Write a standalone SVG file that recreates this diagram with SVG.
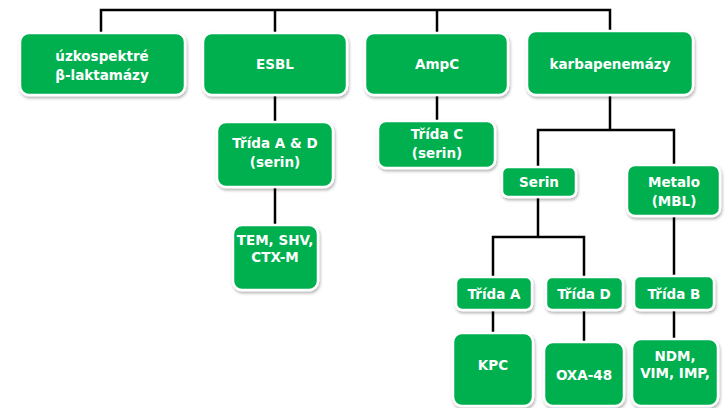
<svg xmlns="http://www.w3.org/2000/svg" width="726" height="408" viewBox="0 0 726 408">
<defs>
<filter id="sh" x="-10%" y="-10%" width="130%" height="130%">
<feDropShadow dx="1" dy="2" stdDeviation="1.5" flood-color="#000" flood-opacity="0.3"/>
</filter>
<style>
.box{fill:#00B050;stroke:#fff;stroke-width:2.5;filter:url(#sh)}
.t{font-family:"DejaVu Sans",sans-serif;font-weight:bold;font-size:13.5px;fill:#fff;text-anchor:middle}
.c{stroke:#000;stroke-width:2.5;fill:none}
</style>
</defs>
<rect width="726" height="408" fill="#fff"/>
<g id="connectors">
<polyline class="c" points="101,33 101,10 610,10 610,31"/>
<line class="c" x1="275" y1="10" x2="275" y2="33"/>
<line class="c" x1="437" y1="10" x2="437" y2="33"/>
<line class="c" x1="275" y1="95" x2="275" y2="122"/>
<line class="c" x1="275" y1="187" x2="275" y2="225"/>
<line class="c" x1="437" y1="95" x2="437" y2="121"/>
<line class="c" x1="610" y1="95" x2="610" y2="130"/>
<polyline class="c" points="538,167 538,130 674,130 674,165"/>
<line class="c" x1="538" y1="197" x2="538" y2="237"/>
<polyline class="c" points="493,277 493,237 584,237 584,277"/>
<line class="c" x1="674" y1="216" x2="674" y2="276"/>
<line class="c" x1="493" y1="310" x2="493" y2="333"/>
<line class="c" x1="584" y1="310" x2="584" y2="342"/>
<line class="c" x1="674" y1="310" x2="674" y2="339"/>
</g>
<g id="n-uzko"><rect class="box" x="20" y="33" width="165" height="62" rx="9"/>
<text class="t" x="102" y="61">úzkospektré</text><text class="t" x="102" y="80">β-laktamázy</text></g>
<g id="n-esbl"><rect class="box" x="203" y="33" width="144" height="62" rx="9"/>
<text class="t" x="275" y="69">ESBL</text></g>
<g id="n-ampc"><rect class="box" x="365" y="33" width="143" height="62" rx="9"/>
<text class="t" x="437" y="69">AmpC</text></g>
<g id="n-karba"><rect class="box" x="527" y="31" width="166" height="64" rx="9"/>
<text class="t" x="610" y="69">karbapenemázy</text></g>
<g id="n-tridaAD"><rect class="box" x="217" y="122" width="116" height="65" rx="9"/>
<text class="t" x="275" y="148">Třída A  &amp; D</text><text class="t" x="275" y="167">(serin)</text></g>
<g id="n-tem"><rect class="box" x="233" y="225" width="85" height="65" rx="9"/>
<text class="t" x="275" y="245">TEM, SHV,</text><text class="t" x="275" y="262">CTX-M</text></g>
<g id="n-tridaC"><rect class="box" x="378" y="121" width="117" height="47" rx="8"/>
<text class="t" x="437" y="139">Třída C</text><text class="t" x="437" y="158">(serin)</text></g>
<g id="n-serin"><rect class="box" x="502" y="167" width="74" height="30" rx="6"/>
<text class="t" x="539" y="187">Serin</text></g>
<g id="n-metalo"><rect class="box" x="627" y="165" width="93" height="51" rx="8"/>
<text class="t" x="674" y="187">Metalo</text><text class="t" x="674" y="206">(MBL)</text></g>
<g id="n-tridaA"><rect class="box" x="456" y="277" width="76" height="33" rx="6"/>
<text class="t" x="494" y="299">Třída A</text></g>
<g id="n-tridaD"><rect class="box" x="546" y="277" width="77" height="33" rx="6"/>
<text class="t" x="584" y="299">Třída D</text></g>
<g id="n-tridaB"><rect class="box" x="634" y="276" width="80" height="34" rx="6"/>
<text class="t" x="674" y="299">Třída B</text></g>
<g id="n-kpc"><rect class="box" x="453" y="333" width="80" height="73" rx="9"/>
<text class="t" x="493" y="370">KPC</text></g>
<g id="n-oxa"><rect class="box" x="544" y="342" width="80" height="64" rx="9"/>
<text class="t" x="584" y="380">OXA-48</text></g>
<g id="n-ndm"><rect class="box" x="632" y="339" width="86" height="67" rx="9"/>
<text class="t" x="675" y="361">NDM,</text><text class="t" x="675" y="378">VIM, IMP,</text></g>
</svg>
